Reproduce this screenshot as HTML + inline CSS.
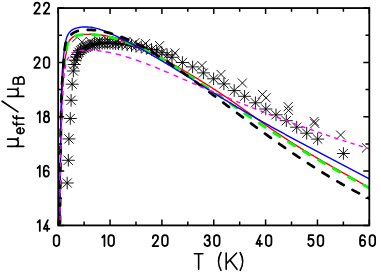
<!DOCTYPE html>
<html><head><meta charset="utf-8"><title>chart</title>
<style>html,body{margin:0;padding:0;background:#fff;}svg{display:block;}</style></head>
<body>
<svg width="381" height="272" viewBox="0 0 381 272">
<rect width="381" height="272" fill="#fff"/>
<defs><clipPath id="c"><rect x="58.2" y="8.07" width="311.1" height="217.33"/></clipPath></defs>
<g clip-path="url(#c)" fill="none">
<path d="M60.7,183.0H73.7M67.2,176.7V189.3M62.6,178.4L71.8,187.6M62.6,187.6L71.8,178.4M61.8,160.3H74.8M68.3,154.0V166.6M63.7,155.7L72.9,164.9M63.7,164.9L72.9,155.7M62.4,138.9H75.4M68.9,132.6V145.2M64.3,134.3L73.5,143.5M64.3,143.5L73.5,134.3M63.8,118.5H76.8M70.3,112.2V124.8M65.7,113.9L74.9,123.1M65.7,123.1L74.9,113.9M64.6,100.3H77.6M71.1,94.0V106.6M66.5,95.7L75.7,104.9M66.5,104.9L75.7,95.7M65.7,84.2H78.7M72.2,77.9V90.5M67.6,79.6L76.8,88.8M67.6,88.8L76.8,79.6M66.8,71.0H79.8M73.3,64.7V77.3M68.7,66.4L77.9,75.6M68.7,75.6L77.9,66.4M67.7,64.5H80.7M74.2,58.2V70.8M69.6,59.9L78.8,69.1M69.6,69.1L78.8,59.9M68.7,60.2H81.7M75.2,53.9V66.5M70.6,55.6L79.8,64.8M70.6,64.8L79.8,55.6M69.8,57.0H82.8M76.3,50.7V63.3M71.7,52.4L80.9,61.6M71.7,61.6L80.9,52.4M71.0,54.5H84.0M77.5,48.2V60.8M72.9,49.9L82.1,59.1M72.9,59.1L82.1,49.9M72.5,52.3H85.5M79.0,46.0V58.6M74.4,47.7L83.6,56.9M74.4,56.9L83.6,47.7M74.0,50.7H87.0M80.5,44.4V57.0M75.9,46.1L85.1,55.3M75.9,55.3L85.1,46.1M75.5,49.4H88.5M82.0,43.1V55.7M77.4,44.8L86.6,54.0M77.4,54.0L86.6,44.8M77.5,48.1H90.5M84.0,41.8V54.4M79.4,43.5L88.6,52.7M79.4,52.7L88.6,43.5M79.5,47.0H92.5M86.0,40.7V53.3M81.4,42.4L90.6,51.6M81.4,51.6L90.6,42.4M81.5,46.2H94.5M88.0,39.9V52.5M83.4,41.6L92.6,50.8M83.4,50.8L92.6,41.6M83.5,45.5H96.5M90.0,39.2V51.8M85.4,40.9L94.6,50.1M85.4,50.1L94.6,40.9M85.7,44.8H98.7M92.2,38.5V51.1M87.6,40.2L96.8,49.4M87.6,49.4L96.8,40.2M88.1,44.3H101.1M94.6,38.0V50.6M90.0,39.7L99.2,48.9M90.0,48.9L99.2,39.7M90.5,43.8H103.5M97.0,37.5V50.1M92.4,39.2L101.6,48.4M92.4,48.4L101.6,39.2M93.1,43.4H106.1M99.6,37.1V49.7M95.0,38.8L104.2,48.0M95.0,48.0L104.2,38.8M95.7,43.2H108.7M102.2,36.9V49.5M97.6,38.6L106.8,47.8M97.6,47.8L106.8,38.6M98.3,43.1H111.3M104.8,36.8V49.4M100.2,38.5L109.4,47.7M100.2,47.7L109.4,38.5M100.9,43.1H113.9M107.4,36.8V49.4M102.8,38.5L112.0,47.7M102.8,47.7L112.0,38.5M103.5,43.1H116.5M110.0,36.8V49.4M105.4,38.5L114.6,47.7M105.4,47.7L114.6,38.5M106.3,43.3H119.3M112.8,37.0V49.6M108.2,38.7L117.4,47.9M108.2,47.9L117.4,38.7M109.1,43.5H122.1M115.6,37.2V49.8M111.0,38.9L120.2,48.1M111.0,48.1L120.2,38.9M111.9,43.8H124.9M118.4,37.5V50.1M113.8,39.2L123.0,48.4M113.8,48.4L123.0,39.2M115.6,44.2H128.6M122.1,37.9V50.5M117.5,39.6L126.7,48.8M117.5,48.8L126.7,39.6M120.6,44.8H133.6M127.1,38.5V51.1M122.5,40.2L131.7,49.4M122.5,49.4L131.7,40.2M125.0,45.5H138.0M131.5,39.2V51.8M126.9,40.9L136.1,50.1M126.9,50.1L136.1,40.9M129.5,46.3H142.5M136.0,40.0V52.6M131.4,41.7L140.6,50.9M131.4,50.9L140.6,41.7M134.7,47.2H147.7M141.2,40.9V53.5M136.6,42.6L145.8,51.8M136.6,51.8L145.8,42.6M139.9,48.3H152.9M146.4,42.0V54.6M141.8,43.7L151.0,52.9M141.8,52.9L151.0,43.7M145.0,49.5H158.0M151.5,43.2V55.8M146.9,44.9L156.1,54.1M146.9,54.1L156.1,44.9M150.2,50.9H163.2M156.7,44.6V57.2M152.1,46.3L161.3,55.5M152.1,55.5L161.3,46.3M155.4,52.7H168.4M161.9,46.4V59.0M157.3,48.1L166.5,57.3M157.3,57.3L166.5,48.1M160.6,54.8H173.6M167.1,48.5V61.1M162.5,50.2L171.7,59.4M162.5,59.4L171.7,50.2M165.5,57.3H178.5M172.0,51.0V63.6M167.4,52.7L176.6,61.9M167.4,61.9L176.6,52.7M175.9,62.5H188.9M182.4,56.2V68.8M177.8,57.9L187.0,67.1M177.8,67.1L187.0,57.9M186.1,66.9H199.1M192.6,60.6V73.2M188.0,62.3L197.2,71.5M188.0,71.5L197.2,62.3M196.9,72.9H209.9M203.4,66.6V79.2M198.8,68.3L208.0,77.5M198.8,77.5L208.0,68.3M207.1,78.8H220.1M213.6,72.5V85.1M209.0,74.2L218.2,83.4M209.0,83.4L218.2,74.2M217.4,83.9H230.4M223.9,77.6V90.2M219.3,79.3L228.5,88.5M219.3,88.5L228.5,79.3M227.7,90.6H240.7M234.2,84.3V96.9M229.6,86.0L238.8,95.2M229.6,95.2L238.8,86.0M238.1,96.3H251.1M244.6,90.0V102.6M240.0,91.7L249.2,100.9M240.0,100.9L249.2,91.7M248.9,102.8H261.9M255.4,96.5V109.1M250.8,98.2L260.0,107.4M250.8,107.4L260.0,98.2M259.3,109.0H272.3M265.8,102.7V115.3M261.2,104.4L270.4,113.6M261.2,113.6L270.4,104.4M269.5,114.8H282.5M276.0,108.5V121.1M271.4,110.2L280.6,119.4M271.4,119.4L280.6,110.2M279.8,120.7H292.8M286.3,114.4V127.0M281.7,116.1L290.9,125.3M281.7,125.3L290.9,116.1M290.2,127.2H303.2M296.7,120.9V133.5M292.1,122.6L301.3,131.8M292.1,131.8L301.3,122.6M300.2,133.2H313.2M306.7,126.9V139.5M302.1,128.6L311.3,137.8M302.1,137.8L311.3,128.6M311.2,139.1H324.2M317.7,132.8V145.4M313.1,134.5L322.3,143.7M313.1,143.7L322.3,134.5M336.9,153.5H349.9M343.4,147.2V159.8M338.8,148.9L348.0,158.1M338.8,158.1L348.0,148.9M77.3,37.4L86.3,46.4M77.3,46.4L86.3,37.4M85.8,37.1L94.8,46.1M85.8,46.1L94.8,37.1M94.5,36.3L103.5,45.3M94.5,45.3L103.5,36.3M103.5,36.0L112.5,45.0M103.5,45.0L112.5,36.0M112.5,36.3L121.5,45.3M112.5,45.3L121.5,36.3M121.5,37.0L130.5,46.0M121.5,46.0L130.5,37.0M130.5,38.1L139.5,47.1M130.5,47.1L139.5,38.1M141.0,39.1L150.0,48.1M141.0,48.1L150.0,39.1M155.1,41.1L164.1,50.1M155.1,50.1L164.1,41.1M170.5,48.4L179.5,57.4M170.5,57.4L179.5,48.4M197.4,61.1L206.4,70.1M197.4,70.1L206.4,61.1M216.5,69.9L225.5,78.9M216.5,78.9L225.5,69.9M237.9,78.5L246.9,87.5M237.9,87.5L246.9,78.5M257.9,89.9L266.9,98.9M257.9,98.9L266.9,89.9M261.5,93.3L270.5,102.3M261.5,102.3L270.5,93.3M283.7,102.2L292.7,111.2M283.7,111.2L292.7,102.2M284.0,105.9L293.0,114.9M284.0,114.9L293.0,105.9M309.6,116.9L318.6,125.9M309.6,125.9L318.6,116.9M310.4,119.0L319.4,128.0M310.4,128.0L319.4,119.0M336.1,130.5L345.1,139.5M336.1,139.5L345.1,130.5M72.25,41.9L77,37.5M362.0,143.3L366.7,147.9L362.0,152.5" stroke="#000" stroke-width="0.9"/>
<path d="M59.90,226.00 L59.91,224.94 L59.92,223.88 L59.92,222.81 L59.93,221.75 L59.94,220.69 L59.95,219.63 L59.96,218.57 L59.97,217.50 L59.97,216.44 L59.98,215.38 L59.99,214.32 L60.00,213.25 L60.01,212.19 L60.02,211.13 L60.03,210.07 L60.03,209.01 L60.04,207.94 L60.05,206.88 L60.06,205.82 L60.07,204.76 L60.08,203.70 L60.09,202.63 L60.10,201.57 L60.11,200.51 L60.12,199.45 L60.12,198.38 L60.13,197.32 L60.14,196.26 L60.15,195.20 L60.16,194.14 L60.17,193.07 L60.18,192.01 L60.19,190.95 L60.20,189.89 L60.21,188.83 L60.22,187.76 L60.23,186.70 L60.24,185.64 L60.25,184.58 L60.26,183.51 L60.27,182.45 L60.28,181.39 L60.29,180.33 L60.30,179.27 L60.31,178.20 L60.32,177.14 L60.33,176.08 L60.34,175.02 L60.35,173.96 L60.36,172.89 L60.37,171.83 L60.38,170.77 L60.39,169.71 L60.40,168.65 L60.41,167.58 L60.42,166.52 L60.44,165.46 L60.45,164.40 L60.46,163.33 L60.47,162.27 L60.49,161.21 L60.50,160.15 L60.51,159.09 L60.53,158.02 L60.54,156.96 L60.55,155.90 L60.57,154.84 L60.58,153.78 L60.60,152.71 L60.62,151.65 L60.63,150.59 L60.65,149.53 L60.67,148.47 L60.68,147.40 L60.70,146.34 L60.72,145.28 L60.74,144.22 L60.76,143.16 L60.78,142.09 L60.80,141.03 L60.82,139.97 L60.84,138.91 L60.86,137.85 L60.88,136.78 L60.90,135.72 L60.92,134.66 L60.94,133.60 L60.96,132.54 L60.98,131.47 L61.00,130.41 L61.03,129.35 L61.05,128.29 L61.07,127.23 L61.09,126.16 L61.12,125.10 L61.14,124.04 L61.17,122.98 L61.19,121.92 L61.22,120.85 L61.24,119.79 L61.27,118.73 L61.30,117.67 L61.32,116.61 L61.35,115.55 L61.38,114.48 L61.41,113.42 L61.44,112.36 L61.47,111.30 L61.50,110.24 L61.53,109.18 L61.57,108.11 L61.60,107.05 L61.63,105.99 L61.67,104.93 L61.70,103.87 L61.74,102.81 L61.78,101.74 L61.81,100.68 L61.85,99.62 L61.89,98.56 L61.93,97.50 L61.98,96.44 L62.02,95.37 L62.06,94.31 L62.11,93.25 L62.16,92.19 L62.20,91.13 L62.25,90.07 L62.30,89.01 L62.35,87.95 L62.40,86.89 L62.46,85.83 L62.51,84.77 L62.57,83.70 L62.62,82.64 L62.68,81.58 L62.74,80.52 L62.80,79.46 L62.86,78.40 L62.93,77.34 L63.00,76.28 L63.07,75.22 L63.15,74.16 L63.23,73.10 L63.32,72.04 L63.41,70.98 L63.51,69.93 L63.63,68.87 L63.77,67.82 L63.93,66.77 L64.10,65.72 L64.27,64.67 L64.44,63.62 L64.59,62.57 L64.74,61.52 L64.88,60.47 L65.03,59.41 L65.18,58.36 L65.35,57.32 L65.53,56.27 L65.75,55.23 L65.98,54.19 L66.19,53.15 L66.38,52.11 L66.53,51.05 L66.65,49.99 L66.76,48.93 L66.87,47.87 L67.01,46.82 L67.18,45.78 L67.43,44.76 L67.77,43.73 L68.19,42.73 L68.65,41.78 L69.18,40.89 L69.83,40.05 L70.56,39.25 L71.30,38.49 L72.08,37.73 L72.91,37.07 L73.82,36.59 L74.80,36.17 L75.82,35.82 L76.86,35.54 L77.88,35.29 L78.93,35.08 L79.98,34.90 L81.03,34.75 L82.09,34.64 L83.14,34.55 L84.21,34.48 L85.27,34.42 L86.33,34.39 L87.39,34.36 L88.45,34.33 L89.52,34.31 L90.58,34.31 L91.64,34.31 L92.70,34.34 L93.76,34.39 L94.82,34.45 L95.88,34.52 L96.94,34.59 L98.00,34.69 L99.06,34.80 L100.11,34.93 L101.17,35.06 L102.22,35.20 L103.27,35.36 L104.32,35.53 L105.37,35.71 L106.41,35.90 L107.45,36.10 L108.49,36.32 L109.53,36.54 L110.57,36.78 L111.60,37.02 L112.63,37.27 L113.66,37.53 L114.69,37.80 L115.72,38.08 L116.74,38.37 L117.76,38.67 L118.77,38.98 L119.79,39.29 L120.80,39.61 L121.81,39.94 L122.82,40.28 L123.82,40.62 L124.83,40.97 L125.83,41.33 L126.82,41.69 L127.82,42.06 L128.81,42.44 L129.80,42.83 L130.79,43.21 L131.78,43.61 L132.76,44.01 L133.74,44.42 L134.72,44.83 L135.70,45.25 L136.67,45.67 L137.65,46.09 L138.62,46.52 L139.59,46.96 L140.55,47.40 L141.52,47.84 L142.48,48.29 L143.44,48.75 L144.40,49.20 L145.36,49.66 L146.31,50.12 L147.27,50.59 L148.22,51.06 L149.17,51.54 L150.12,52.01 L151.07,52.49 L152.01,52.97 L152.96,53.46 L153.90,53.95 L154.84,54.44 L155.79,54.93 L156.73,55.43 L157.66,55.93 L158.60,56.43 L159.54,56.93 L160.47,57.43 L161.41,57.94 L162.34,58.44 L163.27,58.95 L164.20,59.46 L165.13,59.98 L166.06,60.49 L166.99,61.00 L167.92,61.52 L168.85,62.04 L169.78,62.56 L170.70,63.08 L171.63,63.60 L172.55,64.12 L173.48,64.64 L174.40,65.16 L175.32,65.69 L176.25,66.22 L177.17,66.74 L178.09,67.27 L179.01,67.80 L179.93,68.33 L180.85,68.86 L181.77,69.40 L182.69,69.93 L183.60,70.47 L184.52,71.00 L185.44,71.54 L186.35,72.08 L187.27,72.62 L188.18,73.16 L189.09,73.70 L190.01,74.25 L190.92,74.79 L191.83,75.34 L192.74,75.89 L193.65,76.44 L194.56,76.98 L195.47,77.54 L196.37,78.09 L197.28,78.64 L198.19,79.20 L199.09,79.75 L200.00,80.31 L200.90,80.87 L201.80,81.43 L202.70,81.99 L203.61,82.55 L204.51,83.11 L205.41,83.68 L206.31,84.24 L207.20,84.81 L208.10,85.38 L209.00,85.94 L209.89,86.51 L210.79,87.09 L211.68,87.66 L212.58,88.23 L213.47,88.81 L214.36,89.39 L215.25,89.96 L216.14,90.54 L217.03,91.12 L217.92,91.70 L218.81,92.29 L219.70,92.87 L220.58,93.46 L221.47,94.04 L222.36,94.63 L223.24,95.22 L224.12,95.81 L225.00,96.40 L225.89,96.99 L226.77,97.59 L227.65,98.18 L228.53,98.78 L229.40,99.38 L230.28,99.98 L231.16,100.58 L232.03,101.18 L232.91,101.78 L233.78,102.38 L234.65,102.99 L235.53,103.60 L236.40,104.20 L237.27,104.81 L238.14,105.42 L239.00,106.03 L239.87,106.65 L240.74,107.26 L241.61,107.87 L242.47,108.49 L243.34,109.10 L244.20,109.72 L245.07,110.34 L245.93,110.95 L246.80,111.57 L247.66,112.19 L248.53,112.81 L249.39,113.42 L250.25,114.04 L251.12,114.66 L251.98,115.28 L252.84,115.90 L253.71,116.52 L254.57,117.14 L255.43,117.75 L256.30,118.37 L257.16,118.99 L258.03,119.61 L258.89,120.22 L259.76,120.84 L260.62,121.45 L261.49,122.07 L262.36,122.68 L263.22,123.29 L264.09,123.91 L264.96,124.52 L265.83,125.13 L266.70,125.74 L267.57,126.35 L268.44,126.95 L269.31,127.56 L270.19,128.16 L271.06,128.77 L271.94,129.37 L272.81,129.97 L273.69,130.58 L274.56,131.18 L275.44,131.77 L276.32,132.37 L277.20,132.97 L278.08,133.57 L278.96,134.16 L279.84,134.75 L280.72,135.35 L281.60,135.94 L282.48,136.53 L283.37,137.11 L284.25,137.70 L285.14,138.29 L286.03,138.87 L286.92,139.45 L287.80,140.04 L288.69,140.62 L289.58,141.19 L290.48,141.77 L291.37,142.35 L292.26,142.92 L293.16,143.49 L294.05,144.07 L294.95,144.64 L295.85,145.20 L296.74,145.77 L297.64,146.34 L298.54,146.90 L299.45,147.46 L300.35,148.02 L301.25,148.58 L302.16,149.14 L303.06,149.69 L303.97,150.24 L304.88,150.79 L305.79,151.35 L306.69,151.89 L307.61,152.44 L308.52,152.99 L309.43,153.53 L310.34,154.07 L311.26,154.62 L312.17,155.16 L313.08,155.69 L314.00,156.23 L314.92,156.77 L315.83,157.31 L316.75,157.84 L317.67,158.37 L318.59,158.91 L319.51,159.44 L320.43,159.97 L321.35,160.50 L322.27,161.03 L323.19,161.55 L324.12,162.08 L325.04,162.61 L325.96,163.13 L326.88,163.66 L327.81,164.18 L328.73,164.71 L329.66,165.23 L330.58,165.75 L331.50,166.28 L332.43,166.80 L333.35,167.32 L334.28,167.84 L335.21,168.36 L336.13,168.89 L337.06,169.41 L337.98,169.93 L338.91,170.45 L339.83,170.97 L340.76,171.49 L341.68,172.01 L342.61,172.53 L343.53,173.06 L344.46,173.58 L345.38,174.10 L346.31,174.62 L347.23,175.14 L348.16,175.67 L349.08,176.19 L350.01,176.71 L350.93,177.24 L351.85,177.76 L352.78,178.29 L353.70,178.82 L354.62,179.34 L355.54,179.87 L356.46,180.40 L357.39,180.93 L358.31,181.46 L359.23,181.99 L360.14,182.52 L361.06,183.06 L361.98,183.59 L362.90,184.13 L363.81,184.66 L364.73,185.20 L365.65,185.74 L366.56,186.28 L367.47,186.82 L368.39,187.36 L369.30,187.91" stroke="#ff0000" stroke-width="1.4"/>
<path d="M59.90,226.00 L59.91,224.94 L59.92,223.88 L59.92,222.81 L59.93,221.75 L59.94,220.69 L59.95,219.63 L59.96,218.57 L59.97,217.51 L59.97,216.44 L59.98,215.38 L59.99,214.32 L60.00,213.26 L60.01,212.20 L60.02,211.14 L60.03,210.07 L60.03,209.01 L60.04,207.95 L60.05,206.89 L60.06,205.83 L60.07,204.77 L60.08,203.70 L60.09,202.64 L60.10,201.58 L60.11,200.52 L60.12,199.46 L60.12,198.40 L60.13,197.33 L60.14,196.27 L60.15,195.21 L60.16,194.15 L60.17,193.09 L60.18,192.02 L60.19,190.96 L60.20,189.90 L60.21,188.84 L60.22,187.78 L60.23,186.72 L60.24,185.65 L60.25,184.59 L60.26,183.53 L60.27,182.47 L60.28,181.41 L60.29,180.35 L60.30,179.28 L60.31,178.22 L60.32,177.16 L60.33,176.10 L60.34,175.04 L60.35,173.98 L60.36,172.91 L60.37,171.85 L60.38,170.79 L60.39,169.73 L60.40,168.67 L60.41,167.61 L60.42,166.54 L60.44,165.48 L60.45,164.42 L60.46,163.36 L60.47,162.30 L60.48,161.24 L60.50,160.17 L60.51,159.11 L60.53,158.05 L60.54,156.99 L60.55,155.93 L60.57,154.87 L60.58,153.80 L60.60,152.74 L60.62,151.68 L60.63,150.62 L60.65,149.56 L60.67,148.50 L60.68,147.43 L60.70,146.37 L60.72,145.31 L60.74,144.25 L60.76,143.19 L60.78,142.13 L60.80,141.06 L60.81,140.00 L60.83,138.94 L60.85,137.88 L60.88,136.82 L60.90,135.76 L60.92,134.69 L60.94,133.63 L60.96,132.57 L60.98,131.51 L61.00,130.45 L61.02,129.39 L61.05,128.33 L61.07,127.26 L61.09,126.20 L61.12,125.14 L61.14,124.08 L61.17,123.02 L61.19,121.96 L61.22,120.90 L61.24,119.83 L61.27,118.77 L61.30,117.71 L61.32,116.65 L61.35,115.59 L61.38,114.53 L61.41,113.47 L61.44,112.40 L61.47,111.34 L61.50,110.28 L61.53,109.22 L61.56,108.16 L61.60,107.10 L61.63,106.04 L61.66,104.98 L61.70,103.91 L61.74,102.85 L61.77,101.79 L61.81,100.73 L61.85,99.67 L61.89,98.61 L61.93,97.55 L61.97,96.49 L62.02,95.43 L62.06,94.36 L62.11,93.30 L62.15,92.24 L62.20,91.18 L62.25,90.12 L62.30,89.06 L62.35,88.00 L62.40,86.94 L62.46,85.88 L62.51,84.82 L62.56,83.76 L62.62,82.70 L62.68,81.64 L62.73,80.58 L62.79,79.51 L62.86,78.45 L62.92,77.39 L62.99,76.33 L63.06,75.27 L63.14,74.21 L63.22,73.16 L63.31,72.10 L63.40,71.04 L63.50,69.99 L63.62,68.93 L63.76,67.88 L63.92,66.83 L64.09,65.78 L64.26,64.73 L64.43,63.69 L64.58,62.63 L64.73,61.58 L64.87,60.53 L65.02,59.48 L65.17,58.43 L65.34,57.38 L65.52,56.33 L65.74,55.29 L65.96,54.26 L66.18,53.22 L66.37,52.17 L66.52,51.12 L66.65,50.06 L66.75,49.00 L66.87,47.93 L67.00,46.88 L67.17,45.85 L67.41,44.82 L67.75,43.80 L68.16,42.80 L68.62,41.85 L69.14,40.95 L69.79,40.11 L70.51,39.30 L71.25,38.54 L72.03,37.78 L72.85,37.11 L73.75,36.62 L74.73,36.20 L75.75,35.85 L76.78,35.55 L77.81,35.31 L78.85,35.09 L79.90,34.90 L80.96,34.75 L82.01,34.66 L83.07,34.58 L84.13,34.51 L85.19,34.47 L86.25,34.46 L87.32,34.46 L88.38,34.47 L89.44,34.47 L90.50,34.48 L91.56,34.50 L92.62,34.54 L93.68,34.62 L94.74,34.70 L95.80,34.79 L96.86,34.89 L97.91,35.01 L98.97,35.14 L100.02,35.28 L101.07,35.43 L102.12,35.59 L103.17,35.76 L104.21,35.95 L105.26,36.14 L106.30,36.35 L107.34,36.56 L108.38,36.79 L109.41,37.02 L110.45,37.27 L111.48,37.52 L112.51,37.78 L113.53,38.05 L114.56,38.33 L115.58,38.62 L116.60,38.92 L117.62,39.22 L118.63,39.53 L119.64,39.85 L120.65,40.18 L121.66,40.51 L122.67,40.85 L123.67,41.20 L124.67,41.55 L125.67,41.91 L126.67,42.28 L127.66,42.65 L128.66,43.03 L129.65,43.41 L130.63,43.80 L131.62,44.19 L132.61,44.59 L133.59,44.99 L134.57,45.40 L135.55,45.82 L136.52,46.23 L137.49,46.66 L138.47,47.09 L139.44,47.52 L140.40,47.96 L141.37,48.40 L142.33,48.84 L143.30,49.29 L144.26,49.75 L145.21,50.20 L146.17,50.67 L147.12,51.13 L148.08,51.60 L149.03,52.07 L149.98,52.55 L150.92,53.03 L151.87,53.51 L152.81,54.00 L153.75,54.49 L154.69,54.99 L155.63,55.48 L156.57,55.98 L157.50,56.49 L158.43,57.00 L159.37,57.50 L160.30,58.02 L161.22,58.53 L162.15,59.05 L163.08,59.57 L164.00,60.10 L164.92,60.62 L165.84,61.15 L166.76,61.68 L167.68,62.22 L168.60,62.75 L169.51,63.29 L170.42,63.83 L171.34,64.37 L172.25,64.92 L173.16,65.47 L174.07,66.02 L174.97,66.57 L175.88,67.12 L176.78,67.68 L177.69,68.24 L178.59,68.80 L179.49,69.36 L180.39,69.92 L181.29,70.48 L182.19,71.05 L183.09,71.62 L183.98,72.19 L184.88,72.76 L185.77,73.33 L186.66,73.91 L187.55,74.48 L188.45,75.06 L189.34,75.64 L190.23,76.22 L191.11,76.80 L192.00,77.38 L192.89,77.97 L193.77,78.55 L194.66,79.14 L195.54,79.73 L196.43,80.31 L197.31,80.90 L198.19,81.49 L199.08,82.09 L199.96,82.68 L200.84,83.27 L201.72,83.87 L202.60,84.46 L203.47,85.06 L204.35,85.65 L205.23,86.25 L206.11,86.85 L206.98,87.45 L207.86,88.05 L208.74,88.65 L209.61,89.25 L210.49,89.85 L211.36,90.45 L212.24,91.05 L213.11,91.66 L213.98,92.26 L214.86,92.86 L215.73,93.47 L216.60,94.07 L217.48,94.68 L218.35,95.28 L219.22,95.89 L220.09,96.49 L220.97,97.10 L221.84,97.70 L222.71,98.31 L223.58,98.92 L224.45,99.52 L225.32,100.13 L226.20,100.73 L227.07,101.34 L227.94,101.95 L228.81,102.55 L229.68,103.16 L230.56,103.77 L231.43,104.37 L232.30,104.98 L233.17,105.58 L234.04,106.19 L234.92,106.79 L235.79,107.40 L236.66,108.00 L237.54,108.60 L238.41,109.21 L239.28,109.81 L240.16,110.41 L241.03,111.02 L241.91,111.62 L242.78,112.22 L243.66,112.82 L244.53,113.42 L245.41,114.02 L246.29,114.62 L247.16,115.22 L248.04,115.81 L248.92,116.41 L249.80,117.01 L250.68,117.60 L251.56,118.19 L252.44,118.79 L253.32,119.38 L254.20,119.97 L255.08,120.56 L255.97,121.15 L256.85,121.74 L257.74,122.33 L258.62,122.92 L259.51,123.50 L260.39,124.09 L261.28,124.67 L262.16,125.25 L263.05,125.84 L263.94,126.42 L264.83,127.00 L265.72,127.58 L266.61,128.16 L267.50,128.74 L268.39,129.32 L269.28,129.89 L270.17,130.47 L271.06,131.04 L271.96,131.62 L272.85,132.19 L273.74,132.77 L274.64,133.34 L275.53,133.91 L276.43,134.48 L277.33,135.05 L278.22,135.62 L279.12,136.18 L280.02,136.75 L280.92,137.32 L281.82,137.88 L282.72,138.45 L283.62,139.01 L284.52,139.57 L285.42,140.13 L286.32,140.69 L287.22,141.25 L288.12,141.81 L289.03,142.37 L289.93,142.93 L290.83,143.49 L291.74,144.04 L292.64,144.60 L293.55,145.15 L294.45,145.71 L295.36,146.26 L296.27,146.81 L297.18,147.36 L298.08,147.91 L298.99,148.46 L299.90,149.01 L300.81,149.56 L301.72,150.11 L302.63,150.65 L303.54,151.20 L304.45,151.74 L305.36,152.29 L306.28,152.83 L307.19,153.37 L308.10,153.91 L309.02,154.46 L309.93,155.00 L310.84,155.53 L311.76,156.07 L312.68,156.61 L313.59,157.15 L314.51,157.68 L315.42,158.22 L316.34,158.75 L317.26,159.29 L318.18,159.82 L319.10,160.35 L320.02,160.88 L320.94,161.42 L321.86,161.95 L322.78,162.48 L323.70,163.00 L324.62,163.53 L325.54,164.06 L326.46,164.59 L327.38,165.11 L328.31,165.64 L329.23,166.16 L330.15,166.68 L331.08,167.21 L332.00,167.73 L332.93,168.25 L333.85,168.77 L334.78,169.29 L335.71,169.81 L336.63,170.33 L337.56,170.84 L338.49,171.36 L339.41,171.88 L340.34,172.39 L341.27,172.91 L342.20,173.42 L343.13,173.94 L344.06,174.45 L344.99,174.96 L345.92,175.47 L346.85,175.98 L347.78,176.49 L348.71,177.00 L349.65,177.51 L350.58,178.02 L351.51,178.53 L352.44,179.03 L353.38,179.54 L354.31,180.04 L355.25,180.55 L356.18,181.05 L357.12,181.55 L358.05,182.06 L358.99,182.56 L359.92,183.06 L360.86,183.56 L361.79,184.06 L362.73,184.56 L363.67,185.06 L364.61,185.56 L365.54,186.05 L366.48,186.55 L367.42,187.05 L368.36,187.54 L369.30,188.04" stroke="#00ff00" stroke-width="2.75" stroke-linecap="round" stroke-dasharray="7.3 10.061" stroke-dashoffset="14.56"/>
<path d="M59.90,226.00 L59.90,224.93 L59.91,223.86 L59.91,222.78 L59.92,221.71 L59.92,220.64 L59.92,219.57 L59.93,218.49 L59.93,217.42 L59.94,216.35 L59.94,215.28 L59.95,214.20 L59.95,213.13 L59.96,212.06 L59.97,210.99 L59.97,209.91 L59.98,208.84 L59.98,207.77 L59.99,206.70 L60.00,205.62 L60.00,204.55 L60.01,203.48 L60.02,202.41 L60.02,201.33 L60.03,200.26 L60.04,199.19 L60.04,198.12 L60.05,197.04 L60.06,195.97 L60.07,194.90 L60.07,193.83 L60.08,192.76 L60.09,191.68 L60.10,190.61 L60.10,189.54 L60.11,188.47 L60.12,187.39 L60.13,186.32 L60.14,185.25 L60.15,184.18 L60.16,183.10 L60.17,182.03 L60.18,180.96 L60.19,179.89 L60.20,178.81 L60.21,177.74 L60.22,176.67 L60.23,175.60 L60.24,174.52 L60.25,173.45 L60.27,172.38 L60.28,171.31 L60.29,170.24 L60.30,169.16 L60.31,168.09 L60.32,167.02 L60.34,165.95 L60.35,164.87 L60.36,163.80 L60.37,162.73 L60.38,161.66 L60.39,160.58 L60.41,159.51 L60.42,158.44 L60.43,157.37 L60.44,156.29 L60.45,155.22 L60.46,154.15 L60.47,153.08 L60.48,152.00 L60.49,150.93 L60.51,149.86 L60.52,148.79 L60.53,147.72 L60.54,146.64 L60.55,145.57 L60.56,144.50 L60.58,143.43 L60.59,142.35 L60.60,141.28 L60.61,140.21 L60.62,139.14 L60.64,138.06 L60.65,136.99 L60.66,135.92 L60.68,134.85 L60.69,133.77 L60.70,132.70 L60.72,131.63 L60.73,130.56 L60.75,129.49 L60.76,128.41 L60.77,127.34 L60.79,126.27 L60.80,125.20 L60.82,124.12 L60.83,123.05 L60.85,121.98 L60.86,120.91 L60.88,119.83 L60.90,118.76 L60.91,117.69 L60.93,116.62 L60.95,115.54 L60.96,114.47 L60.98,113.40 L61.00,112.33 L61.02,111.26 L61.04,110.18 L61.06,109.11 L61.08,108.04 L61.10,106.97 L61.12,105.89 L61.14,104.82 L61.17,103.75 L61.19,102.68 L61.22,101.61 L61.24,100.53 L61.27,99.46 L61.30,98.39 L61.32,97.32 L61.35,96.25 L61.38,95.17 L61.41,94.10 L61.44,93.03 L61.48,91.96 L61.51,90.89 L61.54,89.81 L61.58,88.74 L61.61,87.67 L61.65,86.60 L61.68,85.53 L61.72,84.45 L61.76,83.38 L61.80,82.31 L61.84,81.24 L61.88,80.17 L61.93,79.10 L61.97,78.02 L62.02,76.95 L62.07,75.88 L62.12,74.81 L62.18,73.74 L62.23,72.67 L62.29,71.60 L62.36,70.53 L62.43,69.46 L62.50,68.39 L62.58,67.32 L62.66,66.25 L62.75,65.18 L62.84,64.11 L62.93,63.04 L63.02,61.97 L63.12,60.91 L63.21,59.84 L63.32,58.77 L63.42,57.70 L63.53,56.64 L63.64,55.57 L63.76,54.50 L63.88,53.44 L64.01,52.37 L64.14,51.31 L64.27,50.24 L64.40,49.18 L64.54,48.11 L64.68,47.04 L64.83,45.98 L64.98,44.91 L65.15,43.85 L65.34,42.80 L65.55,41.76 L65.78,40.71 L66.05,39.67 L66.36,38.62 L66.71,37.59 L67.09,36.58 L67.51,35.61 L67.97,34.67 L68.52,33.73 L69.14,32.80 L69.83,31.94 L70.57,31.17 L71.34,30.54 L72.21,29.95 L73.16,29.40 L74.16,28.91 L75.19,28.49 L76.22,28.17 L77.23,27.93 L78.27,27.70 L79.32,27.49 L80.39,27.30 L81.47,27.15 L82.55,27.04 L83.62,26.97 L84.69,26.96 L85.77,26.97 L86.84,27.00 L87.91,27.03 L88.99,27.08 L90.05,27.14 L91.12,27.27 L92.18,27.45 L93.23,27.66 L94.29,27.87 L95.33,28.09 L96.37,28.35 L97.41,28.63 L98.44,28.93 L99.47,29.23 L100.49,29.56 L101.51,29.90 L102.52,30.26 L103.53,30.63 L104.53,31.01 L105.53,31.40 L106.52,31.80 L107.51,32.22 L108.50,32.64 L109.48,33.06 L110.47,33.49 L111.45,33.93 L112.42,34.37 L113.40,34.82 L114.37,35.27 L115.34,35.73 L116.31,36.18 L117.28,36.64 L118.25,37.11 L119.21,37.57 L120.18,38.04 L121.14,38.51 L122.11,38.98 L123.07,39.46 L124.03,39.94 L124.98,40.42 L125.94,40.90 L126.90,41.39 L127.85,41.87 L128.81,42.36 L129.76,42.86 L130.71,43.35 L131.66,43.85 L132.61,44.35 L133.56,44.85 L134.51,45.35 L135.45,45.86 L136.40,46.36 L137.34,46.87 L138.28,47.38 L139.23,47.90 L140.17,48.41 L141.11,48.93 L142.05,49.45 L142.98,49.97 L143.92,50.49 L144.86,51.01 L145.79,51.54 L146.73,52.06 L147.66,52.59 L148.59,53.12 L149.52,53.65 L150.45,54.18 L151.38,54.72 L152.31,55.25 L153.24,55.79 L154.17,56.33 L155.10,56.87 L156.02,57.41 L156.95,57.95 L157.87,58.49 L158.80,59.04 L159.72,59.58 L160.64,60.13 L161.57,60.67 L162.49,61.22 L163.41,61.77 L164.33,62.32 L165.25,62.87 L166.17,63.43 L167.09,63.98 L168.01,64.53 L168.92,65.09 L169.84,65.65 L170.76,66.20 L171.67,66.76 L172.59,67.32 L173.50,67.88 L174.42,68.44 L175.33,69.00 L176.25,69.56 L177.16,70.12 L178.07,70.68 L178.99,71.24 L179.90,71.81 L180.81,72.37 L181.72,72.94 L182.64,73.50 L183.55,74.07 L184.46,74.63 L185.37,75.20 L186.28,75.76 L187.19,76.33 L188.10,76.90 L189.01,77.46 L189.92,78.03 L190.83,78.60 L191.74,79.17 L192.65,79.73 L193.56,80.30 L194.47,80.87 L195.38,81.44 L196.29,82.01 L197.20,82.58 L198.11,83.15 L199.02,83.71 L199.93,84.28 L200.83,84.85 L201.74,85.42 L202.65,85.99 L203.56,86.56 L204.47,87.12 L205.38,87.69 L206.29,88.26 L207.20,88.83 L208.11,89.40 L209.02,89.96 L209.93,90.53 L210.84,91.10 L211.75,91.66 L212.66,92.23 L213.57,92.79 L214.49,93.36 L215.40,93.92 L216.31,94.49 L217.22,95.05 L218.13,95.62 L219.05,96.18 L219.96,96.74 L220.87,97.30 L221.79,97.86 L222.70,98.42 L223.62,98.98 L224.53,99.54 L225.45,100.10 L226.36,100.66 L227.28,101.22 L228.20,101.77 L229.12,102.33 L230.03,102.88 L230.95,103.44 L231.87,103.99 L232.79,104.54 L233.71,105.09 L234.63,105.64 L235.55,106.19 L236.47,106.74 L237.40,107.29 L238.32,107.83 L239.24,108.38 L240.16,108.92 L241.09,109.47 L242.01,110.01 L242.94,110.56 L243.86,111.10 L244.79,111.64 L245.72,112.18 L246.64,112.72 L247.57,113.26 L248.50,113.79 L249.43,114.33 L250.35,114.87 L251.28,115.40 L252.21,115.94 L253.14,116.47 L254.07,117.01 L255.00,117.54 L255.93,118.07 L256.87,118.60 L257.80,119.13 L258.73,119.66 L259.66,120.19 L260.60,120.72 L261.53,121.25 L262.46,121.78 L263.40,122.30 L264.33,122.83 L265.27,123.36 L266.20,123.88 L267.14,124.41 L268.07,124.93 L269.01,125.45 L269.95,125.97 L270.88,126.50 L271.82,127.02 L272.76,127.54 L273.70,128.06 L274.64,128.58 L275.57,129.10 L276.51,129.61 L277.45,130.13 L278.39,130.65 L279.33,131.16 L280.27,131.68 L281.21,132.20 L282.15,132.71 L283.09,133.23 L284.03,133.74 L284.98,134.25 L285.92,134.77 L286.86,135.28 L287.80,135.79 L288.74,136.30 L289.69,136.81 L290.63,137.32 L291.57,137.83 L292.52,138.34 L293.46,138.85 L294.41,139.36 L295.35,139.87 L296.29,140.38 L297.24,140.89 L298.18,141.39 L299.13,141.90 L300.07,142.41 L301.02,142.91 L301.96,143.42 L302.91,143.93 L303.86,144.43 L304.80,144.94 L305.75,145.44 L306.69,145.95 L307.64,146.45 L308.59,146.95 L309.53,147.46 L310.48,147.96 L311.43,148.46 L312.38,148.97 L313.32,149.47 L314.27,149.97 L315.22,150.47 L316.17,150.97 L317.12,151.47 L318.06,151.98 L319.01,152.48 L319.96,152.98 L320.91,153.48 L321.86,153.98 L322.81,154.48 L323.75,154.98 L324.70,155.48 L325.65,155.98 L326.60,156.48 L327.55,156.98 L328.50,157.48 L329.45,157.98 L330.40,158.48 L331.35,158.98 L332.29,159.48 L333.24,159.97 L334.19,160.47 L335.14,160.97 L336.09,161.47 L337.04,161.97 L337.99,162.47 L338.94,162.97 L339.89,163.47 L340.84,163.96 L341.79,164.46 L342.74,164.96 L343.69,165.46 L344.64,165.96 L345.59,166.46 L346.54,166.96 L347.48,167.46 L348.43,167.96 L349.38,168.45 L350.33,168.95 L351.28,169.45 L352.23,169.95 L353.18,170.45 L354.13,170.95 L355.08,171.45 L356.03,171.95 L356.97,172.45 L357.92,172.95 L358.87,173.45 L359.82,173.95 L360.77,174.45 L361.72,174.95 L362.67,175.45 L363.61,175.96 L364.56,176.46 L365.51,176.96 L366.46,177.46 L367.41,177.96 L368.35,178.46 L369.30,178.97" stroke="#0000ff" stroke-width="1.4"/>
<path d="M59.90,226.00 L59.91,224.91 L59.91,223.83 L59.92,222.74 L59.92,221.65 L59.93,220.57 L59.94,219.48 L59.94,218.40 L59.95,217.31 L59.96,216.22 L59.96,215.14 L59.97,214.05 L59.98,212.96 L59.99,211.88 L59.99,210.79 L60.00,209.70 L60.01,208.62 L60.01,207.53 L60.02,206.45 L60.03,205.36 L60.04,204.27 L60.05,203.19 L60.05,202.10 L60.06,201.01 L60.07,199.93 L60.08,198.84 L60.09,197.76 L60.10,196.67 L60.10,195.58 L60.11,194.50 L60.12,193.41 L60.13,192.32 L60.14,191.24 L60.15,190.15 L60.16,189.06 L60.17,187.98 L60.18,186.89 L60.19,185.81 L60.20,184.72 L60.21,183.63 L60.22,182.55 L60.23,181.46 L60.24,180.37 L60.25,179.29 L60.26,178.20 L60.27,177.12 L60.28,176.03 L60.29,174.94 L60.30,173.86 L60.31,172.77 L60.32,171.68 L60.33,170.60 L60.35,169.51 L60.36,168.42 L60.37,167.34 L60.38,166.25 L60.39,165.17 L60.40,164.08 L60.42,162.99 L60.43,161.91 L60.44,160.82 L60.45,159.73 L60.47,158.65 L60.48,157.56 L60.49,156.48 L60.50,155.39 L60.52,154.30 L60.53,153.22 L60.54,152.13 L60.55,151.04 L60.57,149.96 L60.58,148.87 L60.59,147.79 L60.61,146.70 L60.62,145.61 L60.64,144.53 L60.65,143.44 L60.67,142.35 L60.68,141.27 L60.69,140.18 L60.71,139.10 L60.73,138.01 L60.74,136.92 L60.76,135.84 L60.77,134.75 L60.79,133.66 L60.81,132.58 L60.82,131.49 L60.84,130.41 L60.86,129.32 L60.88,128.23 L60.89,127.15 L60.91,126.06 L60.93,124.97 L60.95,123.89 L60.97,122.80 L60.99,121.72 L61.01,120.63 L61.03,119.54 L61.05,118.46 L61.07,117.37 L61.09,116.28 L61.12,115.20 L61.14,114.11 L61.16,113.03 L61.19,111.94 L61.21,110.85 L61.23,109.77 L61.26,108.68 L61.29,107.60 L61.31,106.51 L61.34,105.42 L61.36,104.34 L61.39,103.25 L61.42,102.17 L61.45,101.08 L61.48,99.99 L61.51,98.91 L61.54,97.82 L61.57,96.73 L61.60,95.65 L61.63,94.56 L61.67,93.48 L61.71,92.39 L61.74,91.30 L61.78,90.22 L61.83,89.13 L61.87,88.05 L61.91,86.96 L61.96,85.88 L62.01,84.79 L62.07,83.71 L62.13,82.63 L62.20,81.54 L62.28,80.46 L62.36,79.37 L62.45,78.29 L62.53,77.21 L62.62,76.12 L62.70,75.04 L62.78,73.96 L62.86,72.87 L62.95,71.79 L63.03,70.71 L63.12,69.63 L63.20,68.54 L63.29,67.46 L63.37,66.38 L63.45,65.29 L63.53,64.21 L63.60,63.12 L63.67,62.04 L63.74,60.95 L63.81,59.87 L63.88,58.78 L63.95,57.70 L64.02,56.62 L64.10,55.53 L64.18,54.45 L64.27,53.37 L64.37,52.29 L64.48,51.21 L64.59,50.12 L64.71,49.03 L64.84,47.94 L64.99,46.86 L65.16,45.79 L65.35,44.73 L65.57,43.69 L65.87,42.65 L66.25,41.62 L66.69,40.60 L67.17,39.62 L67.68,38.68 L68.27,37.77 L68.94,36.89 L69.65,36.07 L70.40,35.29 L71.20,34.55 L72.06,33.86 L72.94,33.24 L73.86,32.66 L74.82,32.13 L75.81,31.66 L76.82,31.29 L77.85,30.98 L78.91,30.70 L79.98,30.46 L81.05,30.29 L82.13,30.15 L83.21,30.03 L84.29,29.94 L85.38,29.90 L86.47,29.90 L87.55,29.89 L88.64,29.89 L89.73,29.89 L90.81,29.91 L91.90,29.97 L92.98,30.05 L94.06,30.16 L95.14,30.26 L96.22,30.38 L97.30,30.52 L98.38,30.67 L99.45,30.83 L100.53,31.00 L101.60,31.19 L102.66,31.39 L103.73,31.61 L104.79,31.83 L105.85,32.07 L106.91,32.32 L107.96,32.58 L109.02,32.85 L110.06,33.13 L111.11,33.43 L112.15,33.73 L113.19,34.05 L114.23,34.37 L115.27,34.70 L116.30,35.04 L117.32,35.40 L118.35,35.76 L119.37,36.13 L120.39,36.50 L121.41,36.89 L122.42,37.28 L123.43,37.68 L124.43,38.09 L125.44,38.51 L126.44,38.93 L127.44,39.36 L128.43,39.80 L129.42,40.24 L130.41,40.69 L131.40,41.15 L132.38,41.61 L133.36,42.08 L134.34,42.56 L135.31,43.03 L136.28,43.52 L137.25,44.01 L138.22,44.50 L139.19,45.00 L140.15,45.51 L141.11,46.02 L142.06,46.53 L143.02,47.05 L143.97,47.57 L144.92,48.10 L145.87,48.63 L146.82,49.16 L147.76,49.70 L148.70,50.24 L149.64,50.79 L150.58,51.34 L151.51,51.89 L152.45,52.44 L153.38,53.00 L154.31,53.56 L155.24,54.13 L156.16,54.70 L157.09,55.27 L158.01,55.84 L158.93,56.42 L159.85,57.00 L160.77,57.58 L161.69,58.16 L162.60,58.75 L163.51,59.34 L164.42,59.93 L165.33,60.52 L166.24,61.12 L167.15,61.72 L168.05,62.32 L168.96,62.92 L169.86,63.53 L170.76,64.13 L171.66,64.74 L172.56,65.35 L173.46,65.97 L174.35,66.58 L175.25,67.20 L176.14,67.81 L177.03,68.43 L177.92,69.06 L178.81,69.68 L179.70,70.30 L180.59,70.93 L181.48,71.56 L182.36,72.19 L183.25,72.82 L184.13,73.45 L185.01,74.08 L185.89,74.72 L186.78,75.35 L187.66,75.99 L188.53,76.63 L189.41,77.27 L190.29,77.91 L191.17,78.55 L192.04,79.19 L192.92,79.83 L193.79,80.48 L194.67,81.12 L195.54,81.77 L196.41,82.42 L197.29,83.06 L198.16,83.71 L199.03,84.36 L199.90,85.01 L200.77,85.66 L201.64,86.31 L202.51,86.96 L203.38,87.62 L204.25,88.27 L205.12,88.92 L205.98,89.57 L206.85,90.23 L207.72,90.88 L208.58,91.54 L209.45,92.19 L210.32,92.85 L211.18,93.50 L212.05,94.16 L212.92,94.81 L213.78,95.47 L214.65,96.13 L215.51,96.78 L216.38,97.44 L217.25,98.09 L218.11,98.75 L218.98,99.41 L219.84,100.06 L220.71,100.72 L221.58,101.38 L222.44,102.03 L223.31,102.69 L224.17,103.34 L225.04,104.00 L225.91,104.65 L226.77,105.31 L227.64,105.96 L228.51,106.62 L229.38,107.27 L230.24,107.92 L231.11,108.58 L231.98,109.23 L232.85,109.88 L233.72,110.54 L234.58,111.19 L235.45,111.84 L236.32,112.49 L237.19,113.14 L238.06,113.79 L238.93,114.45 L239.80,115.10 L240.67,115.75 L241.54,116.40 L242.41,117.05 L243.28,117.69 L244.16,118.34 L245.03,118.99 L245.90,119.64 L246.77,120.29 L247.65,120.93 L248.52,121.58 L249.39,122.23 L250.27,122.87 L251.14,123.52 L252.01,124.16 L252.89,124.80 L253.76,125.45 L254.64,126.09 L255.52,126.73 L256.39,127.38 L257.27,128.02 L258.15,128.66 L259.02,129.30 L259.90,129.94 L260.78,130.58 L261.66,131.22 L262.54,131.85 L263.42,132.49 L264.30,133.13 L265.18,133.77 L266.06,134.40 L266.94,135.04 L267.82,135.67 L268.70,136.30 L269.59,136.94 L270.47,137.57 L271.35,138.20 L272.24,138.83 L273.12,139.46 L274.01,140.09 L274.89,140.72 L275.78,141.35 L276.67,141.98 L277.56,142.60 L278.44,143.23 L279.33,143.85 L280.22,144.48 L281.11,145.10 L282.00,145.72 L282.89,146.35 L283.78,146.97 L284.68,147.59 L285.57,148.21 L286.46,148.82 L287.36,149.44 L288.25,150.06 L289.15,150.67 L290.04,151.29 L290.94,151.90 L291.84,152.51 L292.73,153.12 L293.63,153.74 L294.53,154.35 L295.43,154.95 L296.33,155.56 L297.23,156.17 L298.13,156.77 L299.04,157.38 L299.94,157.98 L300.84,158.58 L301.75,159.18 L302.66,159.78 L303.56,160.38 L304.47,160.98 L305.38,161.58 L306.29,162.17 L307.19,162.77 L308.10,163.36 L309.02,163.95 L309.93,164.54 L310.84,165.13 L311.75,165.72 L312.67,166.31 L313.58,166.89 L314.50,167.48 L315.42,168.06 L316.33,168.64 L317.25,169.22 L318.17,169.80 L319.09,170.38 L320.01,170.95 L320.93,171.53 L321.86,172.10 L322.78,172.67 L323.71,173.24 L324.63,173.81 L325.56,174.38 L326.48,174.95 L327.41,175.51 L328.34,176.07 L329.27,176.63 L330.20,177.19 L331.14,177.75 L332.07,178.31 L333.00,178.86 L333.94,179.42 L334.87,179.97 L335.81,180.52 L336.75,181.06 L337.69,181.61 L338.63,182.15 L339.57,182.70 L340.51,183.24 L341.46,183.78 L342.40,184.31 L343.35,184.85 L344.29,185.38 L345.24,185.91 L346.19,186.44 L347.14,186.97 L348.09,187.49 L349.04,188.02 L349.99,188.54 L350.95,189.06 L351.90,189.58 L352.86,190.09 L353.82,190.60 L354.78,191.11 L355.74,191.62 L356.70,192.13 L357.66,192.63 L358.62,193.14 L359.59,193.64 L360.55,194.13 L361.52,194.63 L362.49,195.12 L363.46,195.61 L364.43,196.10 L365.40,196.59 L366.37,197.07 L367.35,197.55 L368.32,198.03 L369.30,198.50" stroke="#000" stroke-width="2.7" stroke-linecap="round" stroke-dasharray="7.3 10.049" stroke-dashoffset="14.55"/>
<path d="M64.94,68.98 L65.03,68.57 L65.12,68.16 L65.21,67.76 L65.30,67.35 L65.39,66.94 L65.48,66.53 L65.57,66.12 L65.66,65.71 L65.74,65.30 L65.82,64.89 L65.89,64.48M63.88,77.81 L63.92,77.40 L63.95,76.98 L63.98,76.56 L64.02,76.14 L64.06,75.73 L64.09,75.31 L64.13,74.90 L64.17,74.48 L64.21,74.06 L64.26,73.65 L64.30,73.23M63.30,86.69 L63.32,86.28 L63.35,85.86 L63.37,85.44 L63.40,85.02 L63.42,84.61 L63.45,84.19 L63.48,83.77 L63.50,83.35 L63.53,82.94 L63.56,82.52 L63.58,82.10M62.82,95.58 L62.84,95.16 L62.86,94.74 L62.88,94.33 L62.90,93.91 L62.92,93.49 L62.94,93.07 L62.96,92.66 L62.99,92.24 L63.01,91.82 L63.03,91.40 L63.05,90.99M62.41,104.47 L62.43,104.05 L62.45,103.63 L62.47,103.22 L62.48,102.80 L62.50,102.38 L62.52,101.96 L62.54,101.55 L62.56,101.13 L62.58,100.71 L62.60,100.29 L62.62,99.87M62.02,113.36 L62.04,112.94 L62.06,112.53 L62.08,112.11 L62.10,111.69 L62.11,111.27 L62.13,110.86 L62.15,110.44 L62.17,110.02 L62.19,109.60 L62.20,109.18 L62.22,108.77M61.66,122.25 L61.68,121.84 L61.69,121.42 L61.71,121.00 L61.73,120.58 L61.74,120.17 L61.76,119.75 L61.78,119.33 L61.79,118.91 L61.81,118.49 L61.83,118.08 L61.84,117.66M61.35,131.15 L61.37,130.73 L61.38,130.31 L61.39,129.90 L61.41,129.48 L61.42,129.06 L61.43,128.64 L61.45,128.22 L61.46,127.81 L61.48,127.39 L61.49,126.97 L61.50,126.55M61.11,140.05 L61.12,139.63 L61.13,139.21 L61.14,138.79 L61.16,138.37 L61.17,137.96 L61.18,137.54 L61.19,137.12 L61.20,136.70 L61.21,136.28 L61.22,135.87 L61.23,135.45M60.91,148.94 L60.92,148.53 L60.93,148.11 L60.94,147.69 L60.94,147.27 L60.95,146.85 L60.96,146.43 L60.97,146.02 L60.98,145.60 L60.99,145.18 L61.00,144.76 L61.01,144.34M60.74,157.84 L60.74,157.42 L60.75,157.01 L60.76,156.59 L60.77,156.17 L60.77,155.75 L60.78,155.33 L60.79,154.92 L60.80,154.50 L60.81,154.08 L60.81,153.66 L60.82,153.24M60.59,166.74 L60.60,166.32 L60.61,165.90 L60.61,165.49 L60.62,165.07 L60.62,164.65 L60.63,164.23 L60.64,163.81 L60.64,163.40 L60.65,162.98 L60.66,162.56 L60.66,162.14M60.47,175.64 L60.47,175.22 L60.48,174.80 L60.48,174.39 L60.49,173.97 L60.50,173.55 L60.50,173.13 L60.51,172.71 L60.51,172.29 L60.52,171.88 L60.52,171.46 L60.53,171.04M60.36,184.54 L60.36,184.12 L60.37,183.70 L60.37,183.28 L60.38,182.87 L60.38,182.45 L60.39,182.03 L60.39,181.61 L60.40,181.19 L60.40,180.78 L60.41,180.36 L60.41,179.94M60.26,193.44 L60.27,193.02 L60.27,192.60 L60.28,192.18 L60.28,191.77 L60.29,191.35 L60.29,190.93 L60.29,190.51 L60.30,190.09 L60.30,189.68 L60.31,189.26 L60.31,188.84M60.18,202.34 L60.18,201.92 L60.19,201.50 L60.19,201.08 L60.19,200.67 L60.20,200.25 L60.20,199.83 L60.21,199.41 L60.21,198.99 L60.21,198.57 L60.22,198.16 L60.22,197.74M60.10,211.24 L60.11,210.82 L60.11,210.40 L60.11,209.98 L60.12,209.57 L60.12,209.15 L60.12,208.73 L60.13,208.31 L60.13,207.89 L60.13,207.47 L60.14,207.06 L60.14,206.64M60.04,220.14 L60.04,219.72 L60.04,219.30 L60.04,218.88 L60.05,218.46 L60.05,218.05 L60.05,217.63 L60.06,217.21 L60.06,216.79 L60.06,216.37 L60.07,215.96 L60.07,215.54M60.00,226.00 L60.00,225.86 L60.00,225.72 L60.00,225.57 L60.00,225.43 L60.00,225.29 L60.00,225.15 L60.01,225.01 L60.01,224.86 L60.01,224.72 L60.01,224.58 L60.01,224.44M66.93,60.39 L67.09,60.06 L67.25,59.74 L67.42,59.42 L67.60,59.11 L67.78,58.80 L67.97,58.49 L68.17,58.19 L68.37,57.89 L68.57,57.59 L68.77,57.30 L68.97,57.00M72.19,53.34 L72.49,53.14 L72.79,52.94 L73.10,52.74 L73.41,52.57 L73.72,52.39 L74.04,52.22 L74.37,52.07 L74.69,51.91 L75.03,51.78 L75.37,51.66 L75.71,51.53M79.60,50.64 L80.05,50.58 L80.51,50.51 L80.96,50.45 L81.41,50.39 L81.87,50.33 L82.32,50.27 L82.77,50.22 L83.23,50.18 L83.69,50.15 L84.14,50.12 L84.60,50.11M88.20,50.11 L88.63,50.12 L89.06,50.12 L89.48,50.13 L89.91,50.15 L90.34,50.16 L90.76,50.18 L91.19,50.19 L91.62,50.21 L92.05,50.23 L92.47,50.25 L92.90,50.28M96.60,50.56 L97.06,50.60 L97.51,50.65 L97.97,50.70 L98.42,50.75 L98.88,50.80 L99.33,50.85 L99.79,50.91 L100.24,50.96 L100.69,51.02 L101.15,51.09 L101.60,51.15M105.50,51.76 L106.00,51.85 L106.50,51.94 L107.00,52.03 L107.50,52.12 L108.01,52.22 L108.51,52.31 L109.01,52.41 L109.50,52.51 L110.00,52.62 L110.50,52.72 L111.00,52.83M115.60,53.88 L116.10,54.01 L116.60,54.13 L117.10,54.26 L117.60,54.39 L118.11,54.51 L118.61,54.64 L119.11,54.78 L119.60,54.91 L120.10,55.04 L120.60,55.18 L121.10,55.32M125.70,56.65 L126.21,56.80 L126.72,56.95 L127.23,57.11 L127.74,57.27 L128.25,57.43 L128.76,57.59 L129.27,57.75 L129.78,57.91 L130.28,58.07 L130.79,58.24 L131.30,58.40M135.80,59.91 L136.31,60.09 L136.82,60.27 L137.33,60.45 L137.84,60.63 L138.35,60.81 L138.86,60.99 L139.37,61.17 L139.88,61.35 L140.38,61.54 L140.89,61.72 L141.40,61.91M146.00,63.63 L146.42,63.79 L146.84,63.95 L147.26,64.11 L147.68,64.27 L148.09,64.43 L148.51,64.60 L148.93,64.76 L149.35,64.92 L149.77,65.08 L150.18,65.25 L150.60,65.41M155.10,67.21 L155.55,67.39 L155.99,67.57 L156.44,67.76 L156.88,67.94 L157.33,68.12 L157.77,68.30 L158.22,68.49 L158.67,68.67 L159.11,68.85 L159.56,69.04 L160.00,69.22M163.80,70.81 L164.25,71.00 L164.69,71.19 L165.14,71.37 L165.58,71.56 L166.03,71.75 L166.47,71.94 L166.92,72.13 L167.36,72.32 L167.81,72.51 L168.25,72.70 L168.70,72.89M173.60,74.98 L174.03,75.17 L174.45,75.35 L174.88,75.54 L175.31,75.72 L175.74,75.90 L176.16,76.09 L176.59,76.27 L177.02,76.46 L177.45,76.64 L177.87,76.82 L178.30,77.01M182.50,78.82 L182.93,79.00 L183.35,79.19 L183.78,79.37 L184.21,79.55 L184.64,79.74 L185.06,79.92 L185.49,80.10 L185.92,80.29 L186.35,80.47 L186.77,80.65 L187.20,80.84M192.00,82.89 L192.41,83.06 L192.82,83.24 L193.23,83.41 L193.64,83.59 L194.05,83.76 L194.45,83.93 L194.86,84.11 L195.27,84.28 L195.68,84.46 L196.09,84.63 L196.50,84.80M200.10,86.33 L200.51,86.50 L200.92,86.67 L201.33,86.85 L201.74,87.02 L202.15,87.19 L202.55,87.36 L202.96,87.54 L203.37,87.71 L203.78,87.88 L204.19,88.05 L204.60,88.23M209.20,90.16 L209.60,90.32 L210.00,90.49 L210.40,90.66 L210.80,90.83 L211.20,90.99 L211.60,91.16 L212.00,91.33 L212.40,91.49 L212.80,91.66 L213.20,91.83 L213.60,91.99M218.30,93.94 L218.70,94.11 L219.10,94.28 L219.50,94.44 L219.90,94.61 L220.30,94.77 L220.70,94.94 L221.10,95.10 L221.50,95.27 L221.90,95.43 L222.30,95.60 L222.70,95.76M227.50,97.73 L227.90,97.89 L228.30,98.06 L228.70,98.22 L229.10,98.38 L229.50,98.55 L229.90,98.71 L230.30,98.87 L230.70,99.04 L231.10,99.20 L231.50,99.36 L231.90,99.53M236.30,101.31 L236.65,101.45 L237.01,101.60 L237.36,101.74 L237.72,101.88 L238.07,102.03 L238.43,102.17 L238.78,102.31 L239.14,102.45 L239.49,102.60 L239.85,102.74 L240.20,102.88M244.10,104.45 L244.46,104.59 L244.83,104.74 L245.19,104.88 L245.55,105.03 L245.92,105.17 L246.28,105.32 L246.65,105.46 L247.01,105.61 L247.37,105.75 L247.74,105.89 L248.10,106.04M252.29,107.70 L252.66,107.84 L253.04,107.99 L253.41,108.14 L253.78,108.29 L254.15,108.43 L254.53,108.58 L254.90,108.73 L255.27,108.87 L255.64,109.02 L256.02,109.16 L256.39,109.31M260.48,110.91 L260.85,111.05 L261.23,111.20 L261.60,111.34 L261.97,111.49 L262.34,111.63 L262.72,111.78 L263.09,111.92 L263.46,112.07 L263.83,112.21 L264.21,112.36 L264.58,112.50M268.67,114.08 L269.04,114.22 L269.42,114.36 L269.79,114.50 L270.16,114.65 L270.53,114.79 L270.91,114.93 L271.28,115.08 L271.65,115.22 L272.02,115.36 L272.40,115.50 L272.77,115.64M276.86,117.20 L277.23,117.34 L277.61,117.48 L277.98,117.62 L278.35,117.76 L278.72,117.90 L279.10,118.04 L279.47,118.18 L279.84,118.32 L280.21,118.46 L280.59,118.60 L280.96,118.74M285.05,120.27 L285.42,120.41 L285.80,120.55 L286.17,120.69 L286.54,120.83 L286.91,120.96 L287.29,121.10 L287.66,121.24 L288.03,121.38 L288.40,121.52 L288.78,121.65 L289.15,121.79M293.24,123.30 L293.61,123.43 L293.99,123.57 L294.36,123.71 L294.73,123.84 L295.10,123.98 L295.48,124.11 L295.85,124.25 L296.22,124.39 L296.59,124.52 L296.97,124.66 L297.34,124.79M301.43,126.27 L301.80,126.41 L302.18,126.54 L302.55,126.67 L302.92,126.81 L303.29,126.94 L303.67,127.08 L304.04,127.21 L304.41,127.34 L304.78,127.48 L305.16,127.61 L305.53,127.74M309.62,129.19 L309.99,129.33 L310.37,129.46 L310.74,129.59 L311.11,129.72 L311.48,129.85 L311.86,129.98 L312.23,130.11 L312.60,130.25 L312.97,130.38 L313.35,130.51 L313.72,130.64M317.81,132.06 L318.18,132.19 L318.56,132.32 L318.93,132.45 L319.30,132.58 L319.67,132.71 L320.05,132.84 L320.42,132.96 L320.79,133.09 L321.16,133.22 L321.54,133.35 L321.91,133.48M326.00,134.87 L326.37,135.00 L326.75,135.13 L327.12,135.25 L327.49,135.38 L327.86,135.51 L328.24,135.63 L328.61,135.76 L328.98,135.88 L329.35,136.01 L329.73,136.14 L330.10,136.26M334.19,137.63 L334.56,137.75 L334.94,137.88 L335.31,138.00 L335.68,138.12 L336.05,138.25 L336.43,138.37 L336.80,138.49 L337.17,138.62 L337.54,138.74 L337.92,138.86 L338.29,138.99M342.38,140.32 L342.75,140.44 L343.13,140.57 L343.50,140.69 L343.87,140.81 L344.24,140.93 L344.62,141.05 L344.99,141.17 L345.36,141.29 L345.73,141.41 L346.11,141.53 L346.48,141.65M350.57,142.96 L350.94,143.08 L351.32,143.19 L351.69,143.31 L352.06,143.43 L352.43,143.55 L352.81,143.66 L353.18,143.78 L353.55,143.90 L353.92,144.02 L354.30,144.13 L354.67,144.25M358.76,145.53 L359.13,145.64 L359.51,145.76 L359.88,145.87 L360.25,145.99 L360.62,146.10 L361.00,146.22 L361.37,146.33 L361.74,146.45 L362.11,146.56 L362.49,146.68 L362.86,146.79M366.95,148.03 L367.16,148.10 L367.38,148.16 L367.59,148.23 L367.80,148.29 L368.02,148.35 L368.23,148.42 L368.45,148.48 L368.66,148.55 L368.87,148.61 L369.09,148.67 L369.30,148.74" stroke="#ff00ff" stroke-width="1.4"/>
</g>
<rect x="58.2" y="8.07" width="311.10" height="217.33" fill="none" stroke="#000" stroke-width="1.8"/>
<path d="M58.20,225.4v-6.0M58.20,8.07v6.0M84.12,225.4v-3.8M84.12,8.07v3.8M110.05,225.4v-6.0M110.05,8.07v6.0M135.98,225.4v-3.8M135.98,8.07v3.8M161.90,225.4v-6.0M161.90,8.07v6.0M187.82,225.4v-3.8M187.82,8.07v3.8M213.75,225.4v-6.0M213.75,8.07v6.0M239.68,225.4v-3.8M239.68,8.07v3.8M265.60,225.4v-6.0M265.60,8.07v6.0M291.53,225.4v-3.8M291.53,8.07v3.8M317.45,225.4v-6.0M317.45,8.07v6.0M343.38,225.4v-3.8M343.38,8.07v3.8M369.30,225.4v-6.0M369.30,8.07v6.0M58.2,225.40h6.0M369.3,225.40h-6.0M58.2,198.23h3.8M369.3,198.23h-3.8M58.2,171.07h6.0M369.3,171.07h-6.0M58.2,143.90h3.8M369.3,143.90h-3.8M58.2,116.73h6.0M369.3,116.73h-6.0M58.2,89.57h3.8M369.3,89.57h-3.8M58.2,62.40h6.0M369.3,62.40h-6.0M58.2,35.24h3.8M369.3,35.24h-3.8M58.2,8.07h6.0M369.3,8.07h-6.0" stroke="#000" stroke-width="1.5" fill="none"/>
<g fill="none" stroke="#000" stroke-width="1.75" stroke-linecap="round" stroke-linejoin="round">
<path transform="translate(39.80,220.07)" d="M-2.25,2.3L0,0V10.85"/><path transform="translate(43.75,220.07)" d="M4.1,0L0,8.75H5.7M3.5,5.4V10.85"/>
<path transform="translate(39.80,165.74)" d="M-2.25,2.3L0,0V10.85"/><path transform="translate(43.75,165.74)" d="M4.9,1.9C4.5,0.7 3.7,0 2.7,0C1,0 0,1.6 0,4.2V7.75C0,9.6 1.1,10.85 2.6,10.85C4.1,10.85 5.15,9.6 5.15,7.75C5.15,5.9 4.1,4.65 2.6,4.65C1.1,4.65 0,5.9 0,7.75"/>
<path transform="translate(39.80,111.41)" d="M-2.25,2.3L0,0V10.85"/><path transform="translate(43.75,111.41)" d="M2.75,0C4,0 4.95,1 4.95,2.4C4.95,3.8 4,4.8 2.75,4.8C1.5,4.8 0.55,3.8 0.55,2.4C0.55,1 1.5,0 2.75,0ZM2.75,4.8C4.3,4.8 5.45,6.1 5.45,7.85C5.45,9.6 4.3,10.85 2.75,10.85C1.2,10.85 0.05,9.6 0.05,7.85C0.05,6.1 1.2,4.8 2.75,4.8Z"/>
<path transform="translate(34.25,57.08)" d="M0.15,3.0C0.15,1.2 1.2,0 2.8,0C4.4,0 5.45,1.1 5.45,2.7C5.45,3.9 4.9,4.7 4.2,5.6L0,10.85H5.6"/><path transform="translate(43.75,57.08)" d="M0,3.2C0,1.2 1,0 2.8,0C4.6,0 5.6,1.2 5.6,3.2V7.65C5.6,9.65 4.6,10.85 2.8,10.85C1,10.85 0,9.65 0,7.65Z"/>
<path transform="translate(34.25,2.74)" d="M0.15,3.0C0.15,1.2 1.2,0 2.8,0C4.4,0 5.45,1.1 5.45,2.7C5.45,3.9 4.9,4.7 4.2,5.6L0,10.85H5.6"/><path transform="translate(43.75,2.74)" d="M0.15,3.0C0.15,1.2 1.2,0 2.8,0C4.4,0 5.45,1.1 5.45,2.7C5.45,3.9 4.9,4.7 4.2,5.6L0,10.85H5.6"/>
<path transform="translate(53.70,235.15)" d="M0,3.2C0,1.2 1,0 2.8,0C4.6,0 5.6,1.2 5.6,3.2V7.65C5.6,9.65 4.6,10.85 2.8,10.85C1,10.85 0,9.65 0,7.65Z"/>
<path transform="translate(104.45,235.15)" d="M-2.25,2.3L0,0V10.85"/><path transform="translate(108.40,235.15)" d="M0,3.2C0,1.2 1,0 2.8,0C4.6,0 5.6,1.2 5.6,3.2V7.65C5.6,9.65 4.6,10.85 2.8,10.85C1,10.85 0,9.65 0,7.65Z"/>
<path transform="translate(152.65,235.15)" d="M0.15,3.0C0.15,1.2 1.2,0 2.8,0C4.4,0 5.45,1.1 5.45,2.7C5.45,3.9 4.9,4.7 4.2,5.6L0,10.85H5.6"/><path transform="translate(162.15,235.15)" d="M0,3.2C0,1.2 1,0 2.8,0C4.6,0 5.6,1.2 5.6,3.2V7.65C5.6,9.65 4.6,10.85 2.8,10.85C1,10.85 0,9.65 0,7.65Z"/>
<path transform="translate(204.50,235.15)" d="M0.2,2.5C0.5,1 1.4,0 2.7,0C4.2,0 5.1,1 5.1,2.5C5.1,4 4.1,4.9 2.5,4.9C4.3,4.9 5.5,6 5.5,7.8C5.5,9.6 4.4,10.85 2.7,10.85C1.2,10.85 0.2,9.9 0,8.3"/><path transform="translate(214.00,235.15)" d="M0,3.2C0,1.2 1,0 2.8,0C4.6,0 5.6,1.2 5.6,3.2V7.65C5.6,9.65 4.6,10.85 2.8,10.85C1,10.85 0,9.65 0,7.65Z"/>
<path transform="translate(256.35,235.15)" d="M4.1,0L0,8.75H5.7M3.5,5.4V10.85"/><path transform="translate(265.85,235.15)" d="M0,3.2C0,1.2 1,0 2.8,0C4.6,0 5.6,1.2 5.6,3.2V7.65C5.6,9.65 4.6,10.85 2.8,10.85C1,10.85 0,9.65 0,7.65Z"/>
<path transform="translate(308.20,235.15)" d="M5.0,0H0.75L0.3,4.7C1,3.9 1.8,3.6 2.7,3.6C4.3,3.6 5.45,5 5.45,7.2C5.45,9.4 4.3,10.85 2.7,10.85C1.3,10.85 0.3,10 0,8.7"/><path transform="translate(317.70,235.15)" d="M0,3.2C0,1.2 1,0 2.8,0C4.6,0 5.6,1.2 5.6,3.2V7.65C5.6,9.65 4.6,10.85 2.8,10.85C1,10.85 0,9.65 0,7.65Z"/>
<path transform="translate(360.05,235.15)" d="M4.9,1.9C4.5,0.7 3.7,0 2.7,0C1,0 0,1.6 0,4.2V7.75C0,9.6 1.1,10.85 2.6,10.85C4.1,10.85 5.15,9.6 5.15,7.75C5.15,5.9 4.1,4.65 2.6,4.65C1.1,4.65 0,5.9 0,7.75"/><path transform="translate(369.55,235.15)" d="M0,3.2C0,1.2 1,0 2.8,0C4.6,0 5.6,1.2 5.6,3.2V7.65C5.6,9.65 4.6,10.85 2.8,10.85C1,10.85 0,9.65 0,7.65Z"/>
</g>
<g fill="none" stroke="#000" stroke-width="1.6" stroke-linecap="round" stroke-linejoin="round">
<path d="M194.4,253.8H202.9M198.65,253.8V269.3"/>
<path d="M221,252.5Q216,261.4 221,270.3"/>
<path d="M226.2,253V269.3M236.6,253L226.4,263.6M229.9,259.9L237.0,269.3"/>
<path d="M240.2,252.5Q245.2,261.4 240.2,270.3"/>
</g>
<g transform="translate(18.3,146.35) rotate(-90)" fill="none" stroke="#000" stroke-width="1.7" stroke-linecap="round" stroke-linejoin="round">
<path d="M0,-10.7V5.4M0,-3.6C0,-0.6 1.6,0 3.6,0C5.8,0 7.2,-1.4 7.2,-3.8M7.2,-10.7V-1.3Q7.2,-0.1 8.4,-0.3"/>
<path d="M49.9,-10.7V5.4M49.9,-3.6C49.9,-0.6 51.5,0 53.5,0C55.699999999999996,0 57.1,-1.4 57.1,-3.8M57.1,-10.7V-1.3Q57.1,-0.1 58.3,-0.3"/>
<path d="M34.5,-0.3L45.1,-16.2"/>
<path stroke-width="1.6" d="M12.7,1.9499999999999997H18.5A2.9,3.65 0 1 0 18.00,4.25"/>
<path stroke-width="1.6" d="M22.05,5.6V-3.0C22.05,-4.800000000000001 22.85,-5.300000000000001 24.35,-5.300000000000001M20.45,-1.7000000000000002H24.35"/>
<path stroke-width="1.6" d="M28.25,5.6V-3.0C28.25,-4.800000000000001 29.05,-5.300000000000001 30.55,-5.300000000000001M26.65,-1.7000000000000002H30.55"/>
<path stroke-width="1.6" d="M62.3,5.75V-5.15H65.89999999999999C69.89999999999999,-5.15 69.89999999999999,-0.04999999999999982 65.89999999999999,-0.04999999999999982H62.3M65.89999999999999,-0.04999999999999982C70.7,-0.04999999999999982 70.7,5.75 65.89999999999999,5.75H62.3"/>
</g>
</svg>
</body></html>
